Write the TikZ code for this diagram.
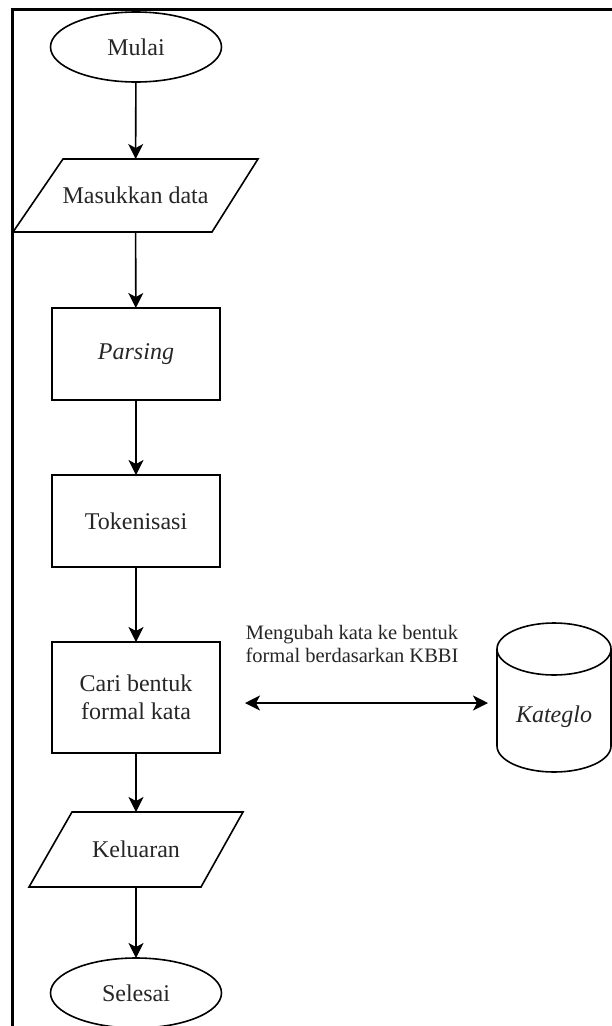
\documentclass[tikz,border=0pt]{standalone}
\usepackage{fontspec}
\setmainfont{Liberation Serif}
\usetikzlibrary{shapes.geometric,arrows.meta}
\begin{document}
\begin{tikzpicture}[x=1pt,y=-1pt,
  every node/.style={inner sep=0pt, outer sep=0pt},
  txt/.style={font=\fontsize{24}{28}\selectfont, align=center, text=black!85},
  base/.style={txt, draw, line width=1.6pt},
  term/.style={base, ellipse, minimum width=171pt, minimum height=70pt},
  proc/.style={base, rectangle, minimum width=168pt},
  io/.style={txt, rectangle, minimum height=74pt},
  shp/.style={line width=1.6pt, line join=miter},
  flow/.style={line width=1.6pt, -{Stealth[length=15pt,width=15pt,inset=4pt]}},
  dflow/.style={line width=1.8pt, {Stealth[length=15pt,width=15pt,inset=4pt]}-{Stealth[length=15pt,width=15pt,inset=4pt]}},
  note/.style={font=\fontsize{20.5}{23}\selectfont, align=center, text=black!85}
]
\useasboundingbox (0,0) rectangle (612,1026);
\fill[white] (0,0) rectangle (612,1026);
\draw[line width=3pt] (12,1030) -- (12,9) -- (615,9);

\node[term] (mulai) at (136,47) {Mulai};
\node[io, minimum width=245pt, minimum height=73pt] (masuk) at (135.5,195.5) {Masukkan data};
\draw[shp] (masuk.south west) -- ([xshift=50pt]masuk.north west) -- (masuk.north east) -- ([xshift=-46pt]masuk.south east) -- cycle;
\node[proc, minimum height=92pt] (parsing) at (136,354) {\textit{Parsing}};
\node[proc, minimum height=92pt] (token) at (136,521) {Tokenisasi};
\node[proc, minimum height=111pt] (cari) at (136,697.5) {Cari bentuk\\formal kata};
\node[io, minimum width=214pt, minimum height=75pt] (kel) at (136,849.5) {Keluaran};
\draw[shp] (kel.south west) -- ([xshift=43pt]kel.north west) -- (kel.north east) -- ([xshift=-42pt]kel.south east) -- cycle;
\node[term] (selesai) at (136,993) {Selesai};

% database cylinder
\draw[shp] (554,649) ellipse [x radius=57, y radius=26];
\draw[shp] (497,649) -- (497,746) arc[start angle=180, end angle=0, x radius=57, y radius=26] -- (611,649);
\node[txt] (db) at (554,717) {\textit{Kateglo}};

\node[note] (note) at (352,643.5) {Mengubah kata ke bentuk\\formal berdasarkan KBBI};

\coordinate (a1) at (245,703);
\coordinate (a2) at (488,703);

\draw[flow] (mulai) -- (masuk);
\draw[flow] (masuk) -- (parsing);
\draw[flow] (parsing) -- (token);
\draw[flow] (token) -- (cari);
\draw[flow] (cari) -- (kel);
\draw[flow] (kel) -- (selesai);
\draw[dflow] (a1) -- (a2);
\end{tikzpicture}
\end{document}
